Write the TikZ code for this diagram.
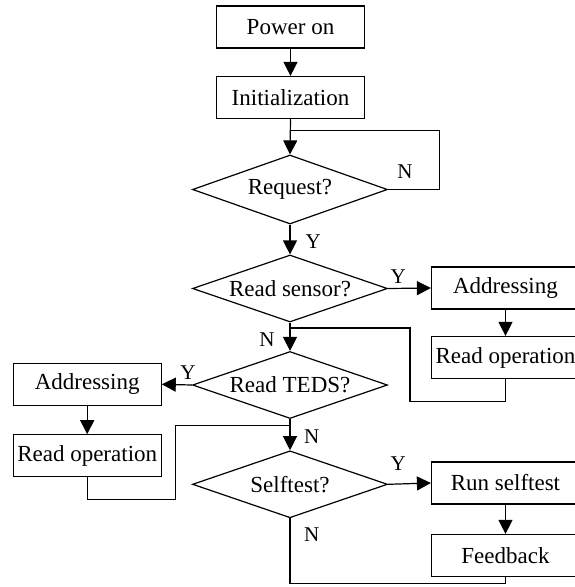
\documentclass[tikz,border=0pt]{standalone}
\usepackage{fontspec}
\setmainfont{Liberation Serif}
\usetikzlibrary{shapes.geometric,arrows.meta}
\begin{document}
\begin{tikzpicture}[x=1pt,y=-1pt,
  line width=1.2pt,
  box/.style={draw,rectangle,minimum width=148pt,minimum height=42pt,inner sep=0pt,font=\fontsize{23}{27}\selectfont},
  dia/.style={draw,diamond,shape aspect=2.87,minimum width=195pt,minimum height=67pt,inner sep=0pt,font=\fontsize{23}{27}\selectfont},
  arr/.style={-{Triangle[length=14pt,width=14pt]}},
  lab/.style={inner sep=0pt,font=\fontsize{21}{25}\selectfont}]
\clip (0,0) rectangle (575,587);
\fill[white] (0,0) rectangle (575,587);
% nodes
\node[box] (pw) at (290.5,27) {Power on};
\node[box] (init) at (290.5,97.5) {Initialization};
\node[dia,minimum height=69pt] (req) at (290,189.5) {Request?};
\node[dia] (rs) at (290,288.5) {Read sensor?};
\node[dia] (teds) at (290,385) {Read TEDS?};
\node[dia] (st) at (290,484.3) {Selftest?};
\node[box] (addr1) at (505.5,288) {Addressing};
\node[box] (rop1) at (505.5,357.5) {Read operation};
\node[box] (addr2) at (87.2,384.3) {Addressing};
\node[box] (rop2) at (87.2,455.8) {Read operation};
\node[box] (run) at (505.5,483) {Run selftest};
\node[box] (fb) at (505.5,555.5) {Feedback};
% junctions
\coordinate (j1) at (290,130.7);
\coordinate (j2) at (290,328);
\coordinate (j3) at (290,425.7);
\coordinate (j4) at (290,583.3);
% connectors
\draw[arr] (pw) -- (init);
\draw[arr] (init.south) -- (req.north);
\draw (req.east) -- ++(51,0) |- (j1);
\draw[arr] (req.south) -- (rs.north);
\draw[arr] (rs.east) -- (addr1.west);
\draw[arr] (addr1) -- (rop1);
\draw (rop1.south) |- (410,401.7) |- (j2);
\draw[arr] (rs.south) -- (teds.north);
\draw[arr] (teds.west) -- (addr2.east);
\draw[arr] (addr2) -- (rop2);
\draw (rop2.south) |- (175.7,499.3) |- (j3);
\draw[arr] (teds.south) -- (st.north);
\draw[arr] (st.east) -- (run.west);
\draw[arr] (run) -- (fb);
\draw (fb.south) |- (j4) -- (st.south);
% labels
\node[lab] (n1) at (405,171.7) {N};
\node[lab] (y1) at (313.3,241.7) {Y};
\node[lab] (y2) at (398.3,276.7) {Y};
\node[lab] (n2) at (267,340) {N};
\node[lab] (y3) at (188,373) {Y};
\node[lab] (n3) at (311.7,436.7) {N};
\node[lab] (y4) at (398.3,463.3) {Y};
\node[lab] (n4) at (311.7,535) {N};
\end{tikzpicture}
\end{document}
